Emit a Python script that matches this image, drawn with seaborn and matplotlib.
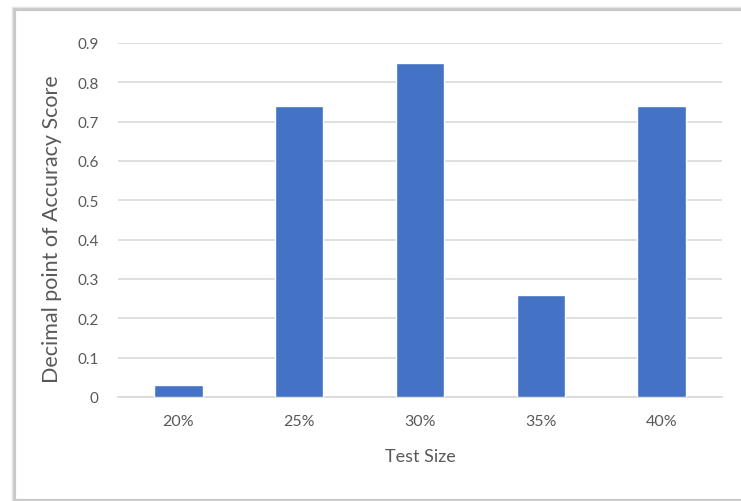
import matplotlib
matplotlib.use("Agg")
import matplotlib.pyplot as plt
import seaborn as sns
import pandas as pd
from matplotlib.patches import Rectangle

# values
test_sizes = ['20%', '25%', '30%', '35%', '40%']
accuracy = [0.03, 0.74, 0.85, 0.26, 0.74]

df = pd.DataFrame({'test_size': test_sizes, 'accuracy': accuracy})

sns.set_theme(style='white')
plt.rcParams['font.family'] = ['Lato', 'DejaVu Sans']

fig = plt.figure(figsize=(7.41, 5.02), dpi=100)
ax = fig.add_axes([118/741, 1 - 398/502, (722-118)/741, (398-44)/502])

sns.barplot(x='test_size', y='accuracy', data=df, color='#4472C4',
            width=0.4, saturation=1, ax=ax, zorder=3)

ax.set_ylim(0, 0.9)
ax.set_yticks([i / 10 for i in range(10)])
ax.set_yticklabels(['0'] + [f'{i/10:.1f}' for i in range(1, 10)])
ax.yaxis.grid(True, color='#d9d9d9', linewidth=1.2, zorder=0)
for s in ['top', 'right', 'left']:
    ax.spines[s].set_visible(False)
ax.spines['bottom'].set_color('#d9d9d9')
ax.spines['bottom'].set_linewidth(1.2)
ax.tick_params(axis='y', length=0, labelsize=11, labelcolor='#595959', pad=14)
ax.tick_params(axis='x', length=0, labelsize=11.5, labelcolor='#595959', pad=12)

ax.set_xlabel('Test Size', fontsize=13, color='#595959', labelpad=15)
ax.set_ylabel('Decimal point of Accuracy Score', fontsize=15.5, color='#595959')
ax.yaxis.set_label_coords(-0.093, 0.477)

# chart frame with shadow
fig.patches.append(Rectangle((14/741, 0), 1, 1 - 10/502, transform=fig.transFigure,
                             facecolor='none', edgecolor='#c8c8c8', linewidth=3, zorder=0))
fig.patches.append(Rectangle((12/741, 0), 1, 1 - 8/502, transform=fig.transFigure,
                             facecolor='none', edgecolor='#e6e6e6', linewidth=1, zorder=0))

fig.savefig('out.png', dpi=100)
